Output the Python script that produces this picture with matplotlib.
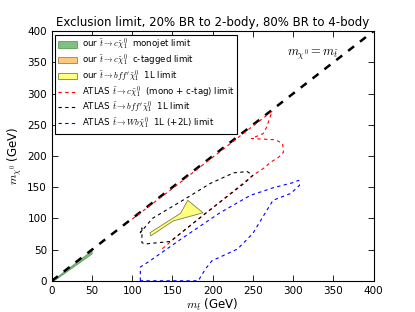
import numpy as np
import matplotlib
matplotlib.use("Agg")
import matplotlib.pyplot as plt
from matplotlib.patches import Patch
from matplotlib.lines import Line2D

plt.rcParams['mathtext.fontset'] = 'cm'
plt.rcParams['font.family'] = 'DejaVu Sans'
plt.rcParams['xtick.direction'] = 'in'
plt.rcParams['ytick.direction'] = 'in'
plt.rcParams['xtick.top'] = True
plt.rcParams['ytick.right'] = True

# ---- data ----
diag = [0, 400]

# our monojet limit (green sliver along the diagonal)
mono_x = [1, 50, 50, 3]
mono_y = [0, 48, 43, 0]

# our bff' 1L limit (yellow)
bff_x = [123, 151, 188, 169, 160, 150, 122]
bff_y = [72, 96, 109, 129, 108, 100, 77]

# ATLAS c chi (mono + c-tag)
atlas_c_x = [100, 150, 200, 250, 274, 267, 263, 248, 278, 287, 288, 282, 272, 263, 250, 200, 160, 137]
atlas_c_y = [99, 148, 198, 248, 272, 246, 236, 228, 226, 220, 206, 198, 190, 180, 169, 117, 76, 51]

# ATLAS bff' 1L
atlas_b_x = [112, 112, 116, 147, 156, 191, 240, 250, 243, 226, 197, 168, 125, 110, 112]
atlas_b_y = [85, 61, 59, 63, 72, 108, 157, 169, 175, 173, 156, 133, 100, 77, 85]

# ATLAS Wb chi 1L (+2L)
atlas_w_x = [110, 110, 122, 163, 209, 247, 275, 299, 307, 308, 297, 275, 265, 250, 231, 199, 191, 182, 110]
atlas_w_y = [0, 22, 32, 69, 109, 137, 149, 157, 161, 153, 140, 129, 108, 76, 51, 32, 19, 0, 0]

fig = plt.figure(figsize=(4.15, 3.12), dpi=100)
ax = fig.add_axes([0.125, 0.1, 0.775, 0.8])

ax.plot(diag, diag, 'k--', lw=1.8, dashes=(3, 3))
ax.fill(mono_x, mono_y, facecolor='#80c080', edgecolor='#5a9a5a', lw=0.6)
ax.fill(bff_x, bff_y, facecolor='#ffff80', edgecolor='#808040', lw=0.6)
ax.plot(atlas_c_x, atlas_c_y, '--', color='red', lw=0.8, dashes=(3, 3))
ax.plot(atlas_b_x, atlas_b_y, '--', color='black', lw=0.8, dashes=(3, 3))
ax.plot(atlas_w_x, atlas_w_y, '--', color='blue', lw=0.8, dashes=(3, 3))

ax.text(293, 361, r'$m_{\chi^0} = m_{\tilde t}$', fontsize=9)

ax.set_xlim(0, 400)
ax.set_ylim(0, 400)
ax.set_xticks(np.arange(0, 401, 50))
ax.set_yticks(np.arange(0, 401, 50))
ax.tick_params(labelsize=7.5, length=4, width=0.6)
ax.set_xlabel(r'$m_{\tilde t}$ (GeV)', fontsize=8.5, labelpad=1)
ax.set_ylabel(r'$m_{\chi^0}$ (GeV)', fontsize=8.5, labelpad=2)
ax.set_title("Exclusion limit, 20% BR to 2-body, 80% BR to 4-body", fontsize=8.5, pad=4)

handles = [
    Patch(facecolor='#80c080', edgecolor='#5a9a5a', lw=0.6),
    Patch(facecolor='#ffc87c', edgecolor='#a08050', lw=0.6),
    Patch(facecolor='#ffff80', edgecolor='#808040', lw=0.6),
    Line2D([], [], color='red', ls='--', lw=0.8, dashes=(3, 3)),
    Line2D([], [], color='black', ls='--', lw=0.8, dashes=(3, 3)),
    Line2D([], [], color='blue', ls='--', lw=0.8, dashes=(3, 3)),
]
labels = [
    r"our $\tilde t \to c\tilde\chi_1^0$  monojet limit",
    r"our $\tilde t \to c\tilde\chi_1^0$  c-tagged limit",
    r"our $\tilde t \to bff^\prime\tilde\chi_1^0$  1L limit",
    r"ATLAS $\tilde t \to c\tilde\chi_1^0$  (mono + c-tag) limit",
    r"ATLAS $\tilde t \to bff^\prime\tilde\chi_1^0$  1L limit",
    r"ATLAS $\tilde t \to Wb\tilde\chi_1^0$  1L (+2L) limit",
]
leg = ax.legend(handles, labels, loc='upper left', fontsize=6.2, fancybox=False,
                framealpha=1, edgecolor='black', borderaxespad=0.4,
                handlelength=2.2, labelspacing=0.05, borderpad=0.3,
                handletextpad=0.6)
leg.get_frame().set_linewidth(0.8)

fig.savefig("out.png", dpi=100)
